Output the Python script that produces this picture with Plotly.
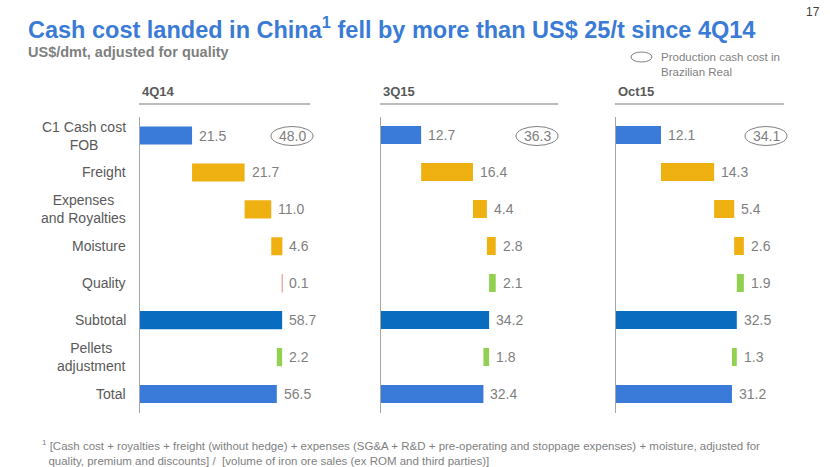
import plotly.graph_objects as go

categories = ["C1 Cash cost<br>FOB", "Freight", "Expenses<br>and Royalties", "Moisture",
              "Quality", "Subtotal", "Pellets<br>adjustment", "Total"]
steps = ["total", "inc", "inc", "inc", "dec", "total", "dec", "total"]
periods = ["4Q14", "3Q15", "Oct15"]
values_4q14 = [21.5, 21.7, 11.0, 4.6, 0.1, 58.7, 2.2, 56.5]
values_3q15 = [12.7, 16.4, 4.4, 2.8, 2.1, 34.2, 1.8, 32.4]
values_oct15 = [12.1, 14.3, 5.4, 2.6, 1.9, 32.5, 1.3, 31.2]
brl_cost = [48.0, 36.3, 34.1]
quality_dec_colors = ["#f4a6a6", "#92d050", "#92d050"]

W, H = 830, 467


def px(x):
    return x / W


def py(y):
    return 1 - y / H


panel_px = [(140, 310), (381, 558), (616, 784)]
panel_max = [70.2, 56.0, 45.2]
y_top, y_bot = 116.5, 412.5

GRAY = "#7f7f7f"
DARK = "#595959"
FONT = "Liberation Sans, Arial, sans-serif"

fig = go.Figure()
annotations = []
shapes = []

all_values = [values_4q14, values_3q15, values_oct15]
for i, vals in enumerate(all_values):
    xa = "x" if i == 0 else f"x{i+1}"
    ya = "y" if i == 0 else f"y{i+1}"
    bases, lengths, colors = [], [], []
    running = 0.0
    for k, (v, s) in enumerate(zip(vals, steps)):
        if s == "total":
            bases.append(0.0)
            lengths.append(v)
            running = v
            colors.append("#0a6cbf" if categories[k] == "Subtotal" else "#3a7bd9")
        elif s == "inc":
            bases.append(running)
            lengths.append(v)
            running += v
            colors.append("#eeb111")
        else:
            running -= v
            bases.append(running)
            lengths.append(v)
            colors.append(quality_dec_colors[i] if categories[k] == "Quality" else "#92d050")
    # give hairline bars (under 1px) a thin outline so they stay visible
    px_per_unit = (panel_px[i][1] - panel_px[i][0]) / panel_max[i]
    line_w = [1 if l * px_per_unit < 1 else 0 for l in lengths]
    fig.add_trace(go.Bar(
        y=categories, x=lengths, base=bases, orientation="h",
        marker=dict(color=colors, line=dict(width=line_w, color=colors)), width=0.49,
        xaxis=xa, yaxis=ya, showlegend=False, hoverinfo="skip"))
    for k, v in enumerate(vals):
        end = bases[k] + lengths[k]
        annotations.append(dict(
            x=end, y=categories[k], xref=xa, yref=ya, text=f"{v:.1f}",
            showarrow=False, xanchor="left", xshift=5,
            font=dict(family=FONT, size=14, color=GRAY)))
    # panel header
    x0, x1 = panel_px[i]
    annotations.append(dict(
        x=px(x0), y=py(92), xref="paper", yref="paper", text=f"<b>{periods[i]}</b>",
        showarrow=False, xanchor="left", yanchor="middle",
        font=dict(family=FONT, size=13, color=DARK)))
    shapes.append(dict(type="line", xref="paper", yref="paper",
                       x0=px(x0 - 1), x1=px(x1), y0=py(104), y1=py(104),
                       line=dict(color="#a6a6a6", width=1.5)))
    # BRL production cash cost ellipse
    cx = [292, 537, 766][i]
    cy = 136
    shapes.append(dict(type="circle", xref="paper", yref="paper",
                       x0=px(cx - 21), x1=px(cx + 21),
                       y0=py(cy + 9.5), y1=py(cy - 9.5),
                       line=dict(color=GRAY, width=1)))
    annotations.append(dict(
        x=px(cx), y=py(cy), xref="paper", yref="paper", text=f"{brl_cost[i]:.1f}",
        showarrow=False, xanchor="center", yanchor="middle",
        font=dict(family=FONT, size=14, color=GRAY)))

# category labels
for k, c in enumerate(categories):
    annotations.append(dict(
        x=px(128), y=c, xref="paper", yref="y", text=c, showarrow=False,
        xanchor="right", yanchor="middle", align="center",
        font=dict(family=FONT, size=14, color=DARK)))

layout_axes = {}
for i in range(3):
    x0, x1 = panel_px[i]
    xkey = "xaxis" if i == 0 else f"xaxis{i+1}"
    ykey = "yaxis" if i == 0 else f"yaxis{i+1}"
    layout_axes[xkey] = dict(domain=[px(x0), px(x1)], range=[0, panel_max[i]],
                             visible=False, fixedrange=True,
                             anchor="y" if i == 0 else f"y{i+1}")
    layout_axes[ykey] = dict(domain=[py(y_bot), py(y_top)],
                             categoryorder="array", categoryarray=categories,
                             autorange="reversed", showticklabels=False,
                             showline=True, linecolor="#a6a6a6", linewidth=1.5,
                             showgrid=False, zeroline=False, ticks="", fixedrange=True,
                             anchor="x" if i == 0 else f"x{i+1}")

# titles & legend
annotations += [
    dict(x=px(26), y=py(28), xref="paper", yref="paper", xanchor="left", yanchor="middle",
         text="<b>Cash cost landed in China<sup>1</sup> fell by more than US$ 25/t since 4Q14</b>",
         showarrow=False, font=dict(family=FONT, size=23.5, color="#3a7bd5")),
    dict(x=px(26), y=py(52), xref="paper", yref="paper", xanchor="left", yanchor="middle",
         text="<b>US$/dmt, adjusted for quality</b>",
         showarrow=False, font=dict(family=FONT, size=14.5, color=GRAY)),
    dict(x=px(822), y=py(12), xref="paper", yref="paper", xanchor="right", yanchor="middle",
         text="17", showarrow=False, font=dict(family=FONT, size=12, color="#404040")),
    dict(x=px(659), y=py(64), xref="paper", yref="paper", xanchor="left", yanchor="middle",
         text="Production cash cost in<br>Brazilian Real", align="left",
         showarrow=False, font=dict(family=FONT, size=11.5, color=GRAY)),
    dict(x=px(40), y=py(452), xref="paper", yref="paper", xanchor="left", yanchor="middle",
         text="<sup>1</sup> [Cash cost + royalties + freight (without hedge) + expenses (SG&A + R&D + pre-operating and stoppage expenses) + moisture, adjusted for<br>"
              "  quality, premium and discounts] /  [volume of iron ore sales (ex ROM and third parties)]",
         align="left", showarrow=False,
         font=dict(family=FONT, size=11.5, color=GRAY)),
]
shapes.append(dict(type="circle", xref="paper", yref="paper",
                   x0=px(631), x1=px(652), y0=py(62), y1=py(52),
                   line=dict(color=GRAY, width=1)))

fig.update_layout(width=W, height=H, margin=dict(l=0, r=0, t=0, b=0),
                  paper_bgcolor="white", plot_bgcolor="white",
                  barmode="overlay", annotations=annotations, shapes=shapes,
                  **layout_axes)

fig.write_html("out.html", config={"displayModeBar": False, "staticPlot": True},
               post_script="document.body.style.margin='0';document.body.style.overflow='hidden';")
